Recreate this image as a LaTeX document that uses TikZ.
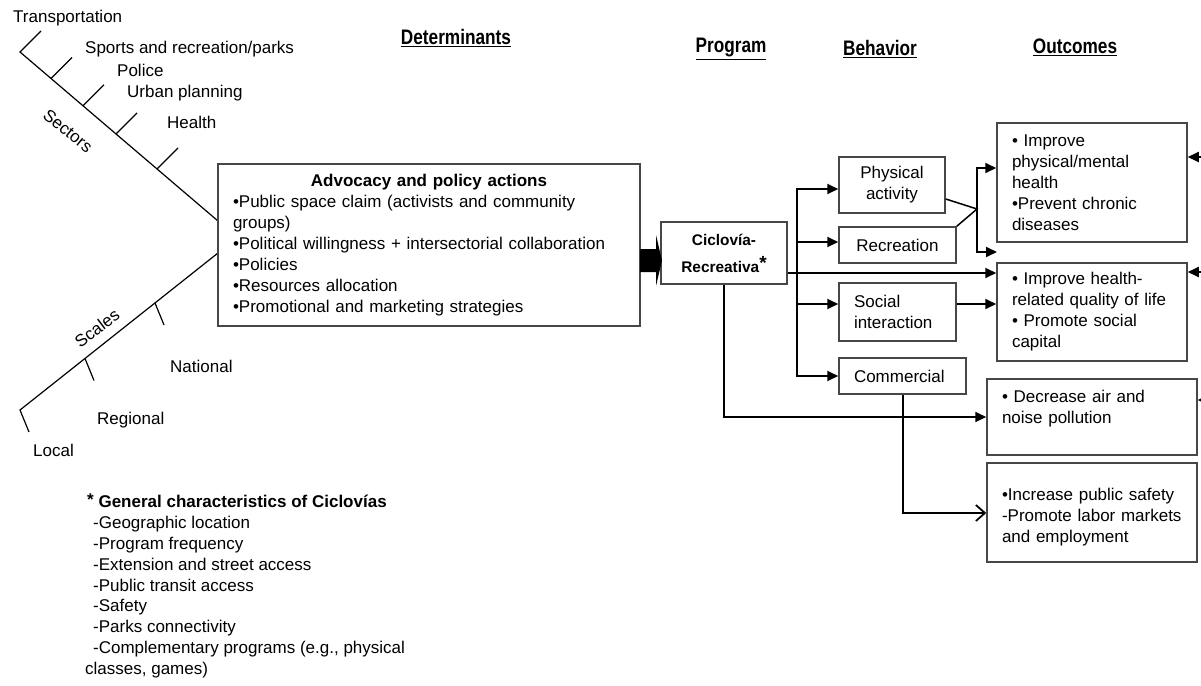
\documentclass[tikz,border=0pt]{standalone}
\usepackage{fontspec}
\setmainfont{Liberation Sans}
\usepackage{graphicx}
\usetikzlibrary{arrows.meta,calc}
\begin{document}
\begin{tikzpicture}[x=1pt,y=-1pt,
  fs/.style={font=\fontsize{17}{21}\selectfont},
  box/.style={draw=black!72, line width=1.5pt, inner xsep=15pt, inner ysep=0pt, fs},
  lbl/.style={anchor=west, inner sep=0pt, text height=12pt, text depth=0pt, fs},
  conn/.style={line width=1.8pt, -{Triangle[length=11pt,width=10pt]}},
  plain/.style={line width=1.8pt},
  spine/.style={line width=1.2pt},
  hdr/.style={font=\fontsize{21}{24}\bfseries\selectfont, inner sep=0pt}]
\useasboundingbox (0,0) rectangle (1201,685);
\fill[white] (0,0) rectangle (1201,685);

% headers
\node[hdr] (hD) at (456,38) {\scalebox{0.82}[1]{\underline{Determinants}}};
\node[hdr] (hP) at (731,49) {\scalebox{0.82}[1]{\underline{Program}}};
\node[hdr] (hB) at (880,49) {\scalebox{0.82}[1]{\underline{Behavior}}};
\node[hdr] (hO) at (1075,47) {\scalebox{0.82}[1]{\underline{Outcomes}}};

% fishbone: sectors
\draw[spine] (41,31) -- (20,52) -- (218,221);
\draw[spine] (51,78.5) -- (72,57.5);
\draw[spine] (83,105.8) -- (104,84.8);
\draw[spine] (116,133.9) -- (137,112.9);
\draw[spine] (157,168.9) -- (178,147.9);
% fishbone: scales
\draw[spine] (29,432) -- (20,410) -- (218,253);
\draw[spine] (85,358.5) -- (94,380.5);
\draw[spine] (155,303) -- (164,325);

\node[lbl] (tTr) at (13,17) {Transportation};
\node[lbl] (tSp) at (85,47) {Sports and recreation/parks};
\node[lbl] (tPo) at (117,70) {Police};
\node[lbl] (tUr) at (127,91) {Urban planning};
\node[lbl] (tHe) at (167,122) {Health};
\node[fs, inner sep=0pt, rotate=-39] (tSe) at (68,131) {Sectors};
\node[fs, inner sep=0pt, rotate=37] (tSc) at (97,328) {Scales};
\node[lbl] (tNa) at (170,366) {National};
\node[lbl] (tRe) at (97,418) {Regional};
\node[lbl] (tLo) at (33,450) {Local};

% advocacy box
\node[box, text width=392pt, minimum height=162pt, align=left] (adv) at (429,245)
 {\makebox[392pt]{\bfseries Advocacy and policy actions}\\
  •Public space claim (activists and community\\
  groups)\\
  •Political willingness + intersectorial collaboration\\
  •Policies\\
  •Resources allocation\\
  •Promotional and marketing strategies};

% program box
\node[box, align=center, inner xsep=0pt, minimum width=126pt, minimum height=62pt,
      font=\fontsize{15.4}{27}\bfseries\selectfont] (cic) at (724,253)
 {Ciclovía-\\Recreativa\raisebox{3pt}{\fontsize{19}{19}\selectfont *}};

% fat arrow
\fill (640,249) -- (656,249) -- (656,235) -- (662,260.5) -- (656,286) -- (656,272) -- (640,272) -- cycle;

% behaviour boxes
\node[box, align=center, inner xsep=0pt, minimum width=106pt, minimum height=56pt] (pa) at (892,185) {Physical\\activity};
\node[box, align=center, inner xsep=0pt, minimum width=117pt, minimum height=36pt] (rec) at (897.5,245) {Recreation};
\node[box, align=left, text width=87pt, minimum height=58pt] (soc) at (897.5,312) {Social\\interaction};
\node[box, align=left, text width=97pt, minimum height=36pt] (com) at (902.5,376) {Commercial};

% outcome boxes
\node[box, align=left, text width=160pt, minimum height=119pt] (o1) at (1092,182.5)
 {• Improve\\physical/mental\\health\\•Prevent chronic\\diseases};
\node[box, align=left, text width=160pt, minimum height=98pt] (o2) at (1092,312)
 {• Improve health-\\related quality of life\\• Promote social\\capital};
\node[box, align=left, text width=180pt, minimum height=76pt] (o3) at (1092,417)
 {• Decrease air and\\noise pollution\\\mbox{}};
\node[box, align=left, text width=180pt, minimum height=99pt] (o4) at (1092,512.5)
 {\mbox{}\\•Increase public safety\\-Promote labor markets\\and employment};

% connectors: bus
\coordinate (bt) at (797,189);
\coordinate (br) at (797,242);
\coordinate (bs) at (797,304);
\coordinate (bb) at (797,376);
\draw[conn] (bb) -- (bt) -- (bt -| pa.west);
\draw[conn] (bt) -- (bb) -- (bb -| com.west);
\draw[conn] (br) -- (br -| rec.west);
\draw[conn] (bs) -- (bs -| soc.west);

% main line program -> outcome 2
\coordinate (my) at (0,273);
\draw[conn] (cic.east |- my) -- (o2.west |- my);
% social -> outcome 2
\coordinate (sy) at (0,304);
\draw[conn] (soc.east |- sy) -- (o2.west |- sy);

% physical activity + recreation -> outcome 1
\coordinate (J) at (977,209);
\coordinate (jt) at (977,168);
\coordinate (jb) at (977,252);
\coordinate (fe) at (997,252);
\draw[line width=1.5pt] ([yshift=-14pt]pa.east) -- (J) -- (rec.north east);
\draw[conn] (jb) -- (jt) -- (jt -| o1.west);
\draw[conn] (jt) -- (jb) -- (fe);

% program -> outcome 3
\coordinate (cb) at (724,417);
\draw[conn] (cic.south) -- (cb) -- (cb -| o3.west);

% commercial -> outcome 4
\coordinate (kb) at (903,513);
\draw[line width=1.8pt, -{Straight Barb[length=9pt,width=16pt]}] (com.south -| kb) -- (kb) -- (kb -| o4.west);

% arrows from right edge
\coordinate (r1) at (1215,157);
\coordinate (r2) at (1215,272);
\coordinate (r3) at (1215,400);
\draw[conn] (r1) -- (r1 -| o1.east);
\draw[conn] (r2) -- (r2 -| o2.east);
\draw[conn] (r3) -- (r3 -| o3.east);

% footnote
\node[fs, font=\fontsize{17}{20.8}\selectfont, align=left, anchor=north west, inner sep=0pt] (fn) at (85,494)
 {\textbf{\hspace*{2pt}\raisebox{2pt}{*} General characteristics of Ciclovías}\\
  \hspace*{8pt}-Geographic location\\
  \hspace*{8pt}-Program frequency\\
  \hspace*{8pt}-Extension and street access\\
  \hspace*{8pt}-Public transit access\\
  \hspace*{8pt}-Safety\\
  \hspace*{8pt}-Parks connectivity\\
  \hspace*{8pt}-Complementary programs (e.g., physical\\
  classes, games)};
\end{tikzpicture}
\end{document}
